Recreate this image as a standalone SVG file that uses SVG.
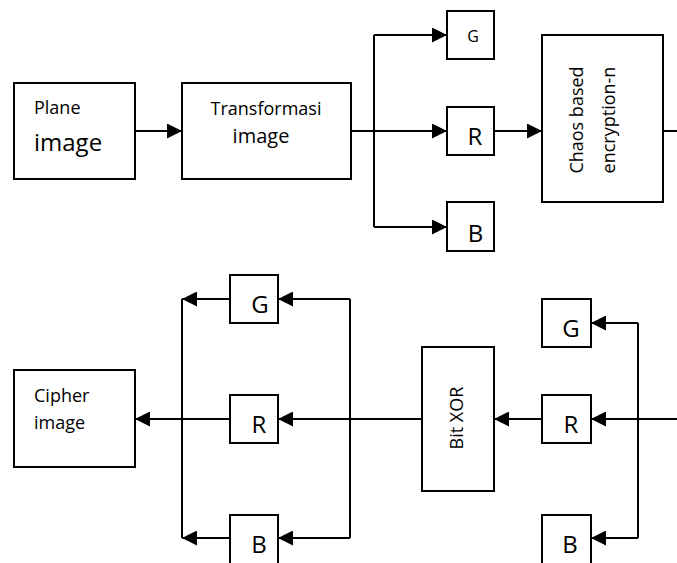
<svg xmlns="http://www.w3.org/2000/svg" width="677" height="563" viewBox="0 0 677 563">
<style>
.box{fill:#fff;stroke:#000;stroke-width:2}
.ln{fill:none;stroke:#000;stroke-width:2}
.ar{marker-end:url(#ah)}
text{font-family:"Open Sans","Liberation Sans",sans-serif;fill:#000}
.s18{font-size:18px}
.c{text-anchor:middle}
.L{font-size:24px;text-anchor:middle}
</style>
<defs>
<marker id="ah" markerUnits="userSpaceOnUse" markerWidth="15" markerHeight="15" refX="15" refY="7.5" orient="auto">
<path d="M0,0 L15,7.5 L0,15 Z" fill="#000"/>
</marker>
</defs>
<rect width="677" height="563" fill="#fff"/>
<g id="connectors">
<path class="ln ar" d="M135,131 H182"/>
<path class="ln ar" d="M351,131 H447"/>
<path class="ln" d="M374,35 V227"/>
<path class="ln ar" d="M374,35 H447"/>
<path class="ln ar" d="M374,227 H447"/>
<path class="ln ar" d="M494,131 H542"/>
<path class="ln" d="M663,131 H677"/>
<path class="ln ar" d="M677,419 H591"/>
<path class="ln" d="M638,323 V538"/>
<path class="ln ar" d="M638,323 H591"/>
<path class="ln ar" d="M638,538 H591"/>
<path class="ln ar" d="M542,419 H494"/>
<path class="ln ar" d="M422,419 H278"/>
<path class="ln" d="M350,299 V538"/>
<path class="ln ar" d="M350,299 H278"/>
<path class="ln ar" d="M350,538 H278"/>
<path class="ln" d="M182,299 V538"/>
<path class="ln ar" d="M230,299 H182"/>
<path class="ln ar" d="M230,538 H182"/>
<path class="ln ar" d="M230,419 H135"/>
</g>
<g id="plane">
<rect class="box" x="14" y="83" width="121" height="96"/>
<text class="s18" x="34" y="114">Plane</text>
<text x="34" y="151" font-size="24px">image</text>
</g>
<g id="transformasi">
<rect class="box" x="182" y="83" width="169" height="96"/>
<text class="s18 c" x="266" y="115">Transformasi</text>
<text class="c" x="261" y="143" font-size="20px">image</text>
</g>
<g id="g-top">
<rect class="box" x="447" y="11" width="47" height="48"/>
<text class="c" x="473" y="42" font-size="16px">G</text>
</g>
<g id="r-top">
<rect class="box" x="447" y="107" width="47" height="48"/>
<text class="L" x="475" y="145">R</text>
</g>
<g id="b-top">
<rect class="box" x="447" y="202" width="47" height="49"/>
<text class="L" x="475.5" y="242" font-size="22px">B</text>
</g>
<g id="chaos">
<rect class="box" x="542" y="35" width="121" height="167"/>
<text class="s18 c" transform="translate(583,120) rotate(-90)">Chaos based</text>
<text class="s18 c" transform="translate(615,120) rotate(-90)">encryption-n</text>
</g>
<g id="cipher">
<rect class="box" x="14" y="370" width="121" height="97"/>
<text class="s18" x="34" y="402">Cipher</text>
<text class="s18" x="34" y="429">image</text>
</g>
<g id="g-left">
<rect class="box" x="230" y="275" width="48" height="48"/>
<text class="L" x="260" y="313">G</text>
</g>
<g id="r-left">
<rect class="box" x="230" y="395" width="48" height="48"/>
<text class="L" x="259" y="433">R</text>
</g>
<g id="b-left">
<rect class="box" x="230" y="515" width="48" height="50"/>
<text class="L" x="259" y="553">B</text>
</g>
<g id="bitxor">
<rect class="box" x="422" y="347" width="72" height="144"/>
<text class="s18 c" transform="translate(463,418) rotate(-90)">Bit XOR</text>
</g>
<g id="g-right">
<rect class="box" x="542" y="299" width="49" height="48"/>
<text class="L" x="571" y="337">G</text>
</g>
<g id="r-right">
<rect class="box" x="542" y="395" width="49" height="48"/>
<text class="L" x="571" y="433">R</text>
</g>
<g id="b-right">
<rect class="box" x="542" y="515" width="49" height="50"/>
<text class="L" x="570" y="553">B</text>
</g>
</svg>
